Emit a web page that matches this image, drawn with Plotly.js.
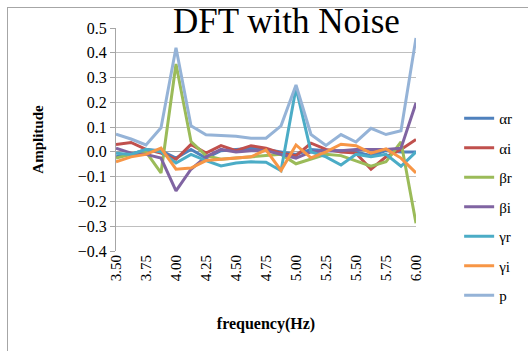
<!DOCTYPE html>
<html>
<head>
<meta charset="utf-8">
<script src="https://cdn.plot.ly/plotly-3.0.1.min.js"></script>
<style>
html,body{margin:0;padding:0;background:#fff;overflow:hidden;}
#chart{width:528px;height:351px;}
#frame{position:absolute;left:7px;top:7px;width:540px;height:360px;border-top:1px solid #a6a6a6;border-left:1px solid #a6a6a6;pointer-events:none;}
</style>
</head>
<body>
<div id="chart"></div>
<div id="frame"></div>
<script>
var freq = ["3.50","3.625","3.75","3.875","4.00","4.125","4.25","4.375","4.50","4.625","4.75","4.875","5.00","5.125","5.25","5.375","5.50","5.625","5.75","5.875","6.00"];
var tickLabels = ["3.50","3.75","4.00","4.25","4.50","4.75","5.00","5.25","5.50","5.75","6.00"];

var alphaR = [-0.02,-0.01,0.01,0.005,-0.025,0.01,-0.025,0.005,0.01,0.015,0.01,0.0,-0.01,0.01,0.005,0.005,0.0,-0.015,0.005,0.0,0.0];
var alphaI = [0.03,0.038,0.01,-0.005,-0.03,0.03,-0.005,0.025,0.005,0.025,0.015,-0.005,-0.015,0.035,0.01,0.0,-0.005,-0.07,-0.02,0.01,0.05];
var betaR  = [-0.025,-0.01,0.0,-0.085,0.355,0.042,-0.015,-0.03,-0.025,-0.02,-0.015,-0.01,-0.048,-0.03,-0.01,-0.015,-0.035,-0.058,-0.04,0.04,-0.288];
var betaI  = [0.015,-0.005,-0.01,-0.025,-0.157,-0.07,-0.02,0.01,0.0,0.005,0.005,-0.01,-0.025,0.0,0.005,0.005,0.01,0.01,0.01,0.015,0.197];
var gammaR = [-0.005,-0.01,0.01,0.0,-0.045,-0.01,-0.035,-0.057,-0.045,-0.04,-0.042,-0.076,0.258,0.0,-0.02,-0.053,-0.01,-0.02,-0.01,-0.058,0.0];
var gammaI = [-0.04,-0.02,-0.01,0.015,-0.07,-0.065,-0.035,-0.03,-0.025,-0.02,0.008,-0.075,0.028,-0.024,0.0,0.031,0.025,-0.005,0.012,-0.025,-0.085];
var pVals  = [0.072,0.052,0.028,0.097,0.42,0.105,0.069,0.065,0.063,0.055,0.055,0.105,0.27,0.07,0.026,0.07,0.04,0.095,0.07,0.085,0.46];

var names = ["\u03b1r","\u03b1i","\u03b2r","\u03b2i","\u03b3r","\u03b3i","p"];
var series = [alphaR, alphaI, betaR, betaI, gammaR, gammaI, pVals];
var colors = ["#4F81BD","#C0504D","#9BBB59","#8064A2","#4BACC6","#F79646","#95B3D7"];

var traces = series.map(function(s, i){
  return {
    x: freq, y: s, type: "scatter", mode: "lines", name: names[i],
    legendgroup: "g"+i,
    line: {color: colors[i], width: 3}
  };
});

var serif = "Liberation Serif, serif";
var layout = {
  width: 528, height: 351,
  margin: {l: 116, r: 111, t: 28, b: 100},
  paper_bgcolor: "#fff", plot_bgcolor: "#fff",
  showlegend: true,
  legend: {x: 1.14, xanchor: "left", y: 0.668, yanchor: "top",
           font: {family: serif, size: 15, color: "#000"},
           tracegroupgap: 7, bgcolor: "rgba(0,0,0,0)"},
  xaxis: {
    type: "category", categoryorder: "array", categoryarray: freq,
    tickmode: "array", tickvals: tickLabels, ticktext: tickLabels,
    tickangle: -90, tickfont: {family: serif, size: 15, color: "#000"},
    showgrid: false, zeroline: false, showline: false, ticks: "",
    title: {text: "<b>frequency(Hz)</b>", font: {family: serif, size: 16, color: "#000"}, standoff: 37},
    automargin: false
  },
  yaxis: {
    range: [-0.4, 0.5], dtick: 0.1, tick0: 0,
    tickformat: ".1f",
    tickfont: {family: serif, size: 16, color: "#000"},
    showgrid: true, gridcolor: "#bfbfbf", gridwidth: 1,
    zeroline: true, zerolinecolor: "#a6a6a6", zerolinewidth: 1,
    showline: true, linecolor: "#a6a6a6", linewidth: 1,
    ticks: "outside", ticklen: 5, tickcolor: "#a6a6a6",
    title: {text: "<b>Amplitude</b>", font: {family: serif, size: 15, color: "#000"}, standoff: 30},
    automargin: false
  },
  annotations: [{
    text: "DFT with Noise", xref: "paper", yref: "paper",
    x: 0.568, y: 1.03, xanchor: "center", yanchor: "middle",
    showarrow: false, font: {family: serif, size: 35, color: "#000"}
  }]
};

Plotly.newPlot("chart", traces, layout, {displayModeBar: false, staticPlot: true});
</script>
</body>
</html>
